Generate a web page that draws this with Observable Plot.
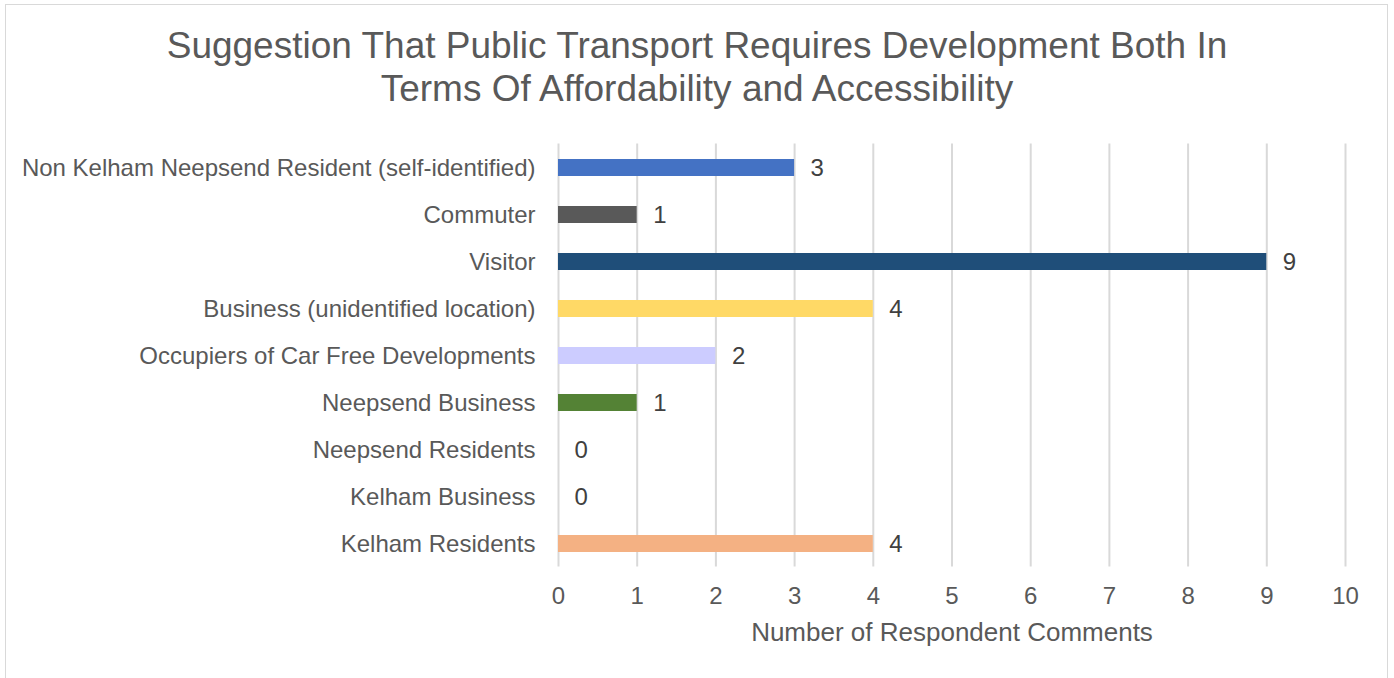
<!DOCTYPE html>
<html>
<head>
<meta charset="utf-8">
<script src="https://cdn.jsdelivr.net/npm/d3@7"></script>
<script src="https://cdn.jsdelivr.net/npm/@observablehq/plot@0.6"></script>
<style>
  html, body { margin: 0; padding: 0; background: #fff; }
  body { width: 1394px; height: 678px; overflow: hidden; position: relative; font-family: "Liberation Sans", Arial, sans-serif; }
  #frame { position: absolute; left: 5px; top: 4px; width: 1383px; height: 720px; border: 1.5px solid #d9d9d9; box-sizing: border-box; }
  #title { position: absolute; left: 0; top: 24px; width: 1394px; text-align: center; font-size: 37px; line-height: 43px; color: #595959; }
  #chart { position: absolute; left: 0; top: 120px; }
</style>
</head>
<body>
<div id="frame"></div>
<div id="title">Suggestion That Public Transport Requires Development Both In<br>Terms Of Affordability and Accessibility</div>
<div id="chart"></div>
<script>
const categories = [
  "Non Kelham Neepsend Resident (self-identified)",
  "Commuter",
  "Visitor",
  "Business (unidentified location)",
  "Occupiers of Car Free Developments",
  "Neepsend Business",
  "Neepsend Residents",
  "Kelham Business",
  "Kelham Residents"
];
const values = [3, 1, 9, 4, 2, 1, 0, 0, 4];
const colors = ["#4472C4", "#595959", "#1F4E79", "#FFD966", "#CCCCFF", "#548235", "#A5A5A5", "#ED7D31", "#F4B183"];
const xTicks = [0, 1, 2, 3, 4, 5, 6, 7, 8, 9, 10];
const xLabel = "Number of Respondent Comments";

const data = categories.map((c, i) => ({category: c, value: values[i], color: colors[i]}));

const chart = Plot.plot({
  width: 1394,
  height: 558,
  marginLeft: 558,
  marginRight: 49,
  marginTop: 23.5,
  marginBottom: 111.5,
  style: {fontFamily: "'Liberation Sans', Arial, sans-serif", fontSize: "24px", color: "#595959", background: "transparent"},
  x: {domain: [0, 10], ticks: xTicks},
  y: {domain: categories, paddingInner: 0.64, paddingOuter: 0.32},
  marks: [
    Plot.gridX(xTicks, {stroke: "#d9d9d9", strokeOpacity: 1, strokeWidth: 2}),
    Plot.barX(data, {y: "category", x: "value", fill: "color"}),
    Plot.text(data, {y: "category", x: "value", text: d => String(d.value), textAnchor: "start", dx: 16, fill: "#404040", fontSize: 24}),
    Plot.axisX({ticks: xTicks, tickSize: 0, tickPadding: 20, fontSize: 24, label: null, fill: "#595959"}),
    Plot.axisY({tickSize: 0, tickPadding: 23, fontSize: 24, label: null, fill: "#595959"}),
    Plot.text([xLabel], {frameAnchor: "bottom", dy: 74, text: d => d, fontSize: 26, fill: "#595959"})
  ]
});
document.getElementById("chart").appendChild(chart);
</script>
</body>
</html>
